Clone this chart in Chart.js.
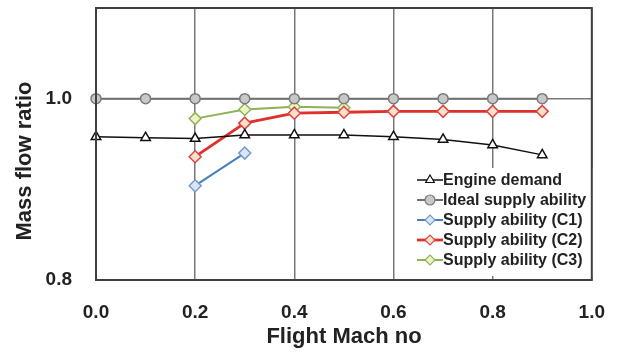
<!DOCTYPE html>
<html lang="en">
  <head>
    <meta charset="UTF-8" />
    <title>Mass flow ratio vs Flight Mach no</title>
    <script src="https://cdn.jsdelivr.net/npm/chart.js"></script>
    <style>
      body { margin: 0; background: #fff; }
    </style>
  </head>
  <body>
    <canvas id="massFlowChart" width="626" height="358"></canvas>

    <script>
      const machAll = [0.0, 0.1, 0.2, 0.3, 0.4, 0.5, 0.6, 0.7, 0.8, 0.9];
      const engineDemand = [0.958, 0.957, 0.956, 0.96, 0.96, 0.96, 0.958, 0.955, 0.949, 0.938];
      const idealSupply = [1.0, 1.0, 1.0, 1.0, 1.0, 1.0, 1.0, 1.0, 1.0, 1.0];
      const machC1 = [0.2, 0.3];
      const supplyC1 = [0.904, 0.94];
      const machC2 = [0.2, 0.3, 0.4, 0.5, 0.6, 0.7, 0.8, 0.9];
      const supplyC2 = [0.936, 0.973, 0.984, 0.985, 0.986, 0.986, 0.986, 0.986];
      const machC3 = [0.2, 0.3, 0.4, 0.5];
      const supplyC3 = [0.978, 0.988, 0.991, 0.99];
      const yTicks = [0.8, 1.0];

      const toPoints = (xs, ys) => xs.map((x, i) => ({ x: x, y: ys[i] }));

      // frame, axis titles and the boxed legend
      const decorations = {
        id: "decorations",
        afterDatasetsDraw(chart) {
          const ctx = chart.ctx;
          const area = chart.chartArea;
          ctx.save();

          // legend box
          const lx = 410, ly = 168, lw = 191, lh = 108;
          ctx.fillStyle = "#fff";
          ctx.fillRect(lx, ly, lw, lh);
          ctx.font = "bold 16px 'Liberation Sans', Arial, sans-serif";
          ctx.textBaseline = "middle";
          chart.data.datasets.forEach((ds, i) => {
            const y = ly + 12 + i * 20;
            ctx.strokeStyle = ds.borderColor;
            ctx.lineWidth = ds.borderWidth;
            ctx.beginPath();
            ctx.moveTo(417, y);
            ctx.lineTo(443, y);
            ctx.stroke();
            ctx.fillStyle = ds.pointBackgroundColor;
            ctx.strokeStyle = ds.pointBorderColor;
            ctx.lineWidth = 1.2;
            Chart.helpers.drawPoint(ctx, {
              pointStyle: ds.pointStyle,
              radius: 5,
              rotation: 0,
              borderWidth: 1.2,
            }, 430, y);
            ctx.fillStyle = "#222";
            ctx.fillText(ds.label, 443, y + 1);
          });

          // plot frame
          ctx.strokeStyle = "#404040";
          ctx.lineWidth = 2;
          ctx.strokeRect(area.left, area.top, area.right - area.left, area.bottom - area.top);

          // axis titles
          ctx.fillStyle = "#222";
          ctx.font = "bold 22px 'Liberation Sans', Arial, sans-serif";
          ctx.textAlign = "center";
          ctx.textBaseline = "middle";
          ctx.fillText("Flight Mach no", 344, 337);
          ctx.translate(25, 161);
          ctx.rotate(-Math.PI / 2);
          ctx.fillText("Mass flow ratio", 0, 0);
          ctx.restore();
        },
      };

      const ctx = document.getElementById("massFlowChart").getContext("2d");
      const massFlowChart = new Chart(ctx, {
        type: "line",
        data: {
          datasets: [
            {
              label: "Engine demand",
              data: toPoints(machAll, engineDemand),
              borderColor: "#111",
              borderWidth: 1.5,
              pointStyle: "triangle",
              pointRadius: 5.5,
              pointBackgroundColor: "#fff",
              pointBorderColor: "#111",
              pointBorderWidth: 1.5,
              clip: false,
            },
            {
              label: "Ideal supply ability",
              data: toPoints(machAll, idealSupply),
              borderColor: "#707070",
              borderWidth: 2,
              pointStyle: "circle",
              pointRadius: 5,
              pointBackgroundColor: "#c8c8c8",
              pointBorderColor: "#7a7a7a",
              pointBorderWidth: 1.5,
              clip: false,
            },
            {
              label: "Supply ability (C1)",
              data: toPoints(machC1, supplyC1),
              borderColor: "#4a7ebb",
              borderWidth: 2,
              pointStyle: "rectRot",
              pointRadius: 6,
              pointBackgroundColor: "#dbe6f3",
              pointBorderColor: "#6f9bd2",
              pointBorderWidth: 1.5,
            },
            {
              label: "Supply ability (C2)",
              data: toPoints(machC2, supplyC2),
              borderColor: "#e0302c",
              borderWidth: 2.8,
              pointStyle: "rectRot",
              pointRadius: 6,
              pointBackgroundColor: "#f6e2c8",
              pointBorderColor: "#e04444",
              pointBorderWidth: 1.5,
            },
            {
              label: "Supply ability (C3)",
              data: toPoints(machC3, supplyC3),
              borderColor: "#8db255",
              borderWidth: 2,
              pointStyle: "rectRot",
              pointRadius: 6,
              pointBackgroundColor: "#eef3c4",
              pointBorderColor: "#92b358",
              pointBorderWidth: 1.5,
            },
          ],
        },
        options: {
          responsive: false,
          animation: false,
          layout: { padding: { top: 8, right: 24, left: 0, bottom: 0 } },
          plugins: {
            legend: { display: false },
            tooltip: { enabled: false },
          },
          scales: {
            x: {
              type: "linear",
              min: 0,
              max: 1,
              afterFit: (scale) => { scale.height = 78; },
              ticks: {
                stepSize: 0.2,
                padding: 21,
                color: "#222",
                font: { family: "'Liberation Sans', Arial", size: 19, weight: "bold" },
                callback: (v) => v.toFixed(1),
              },
              grid: { color: "#787878", lineWidth: 1.5, drawTicks: false },
              border: { display: false },
            },
            y: {
              type: "linear",
              min: 0.8,
              max: 1.1,
              afterFit: (scale) => {
                scale.width = 96;
                scale.paddingTop = 0;
              },
              afterBuildTicks: (scale) => {
                scale.ticks = yTicks.map((v) => ({ value: v }));
              },
              ticks: {
                padding: 24,
                color: "#222",
                font: { family: "'Liberation Sans', Arial", size: 19, weight: "bold" },
                callback: (v) => v.toFixed(1),
              },
              grid: { color: "#787878", lineWidth: 1.5, drawTicks: false },
              border: { display: false },
            },
          },
        },
        plugins: [decorations],
      });
    </script>
  </body>
</html>
